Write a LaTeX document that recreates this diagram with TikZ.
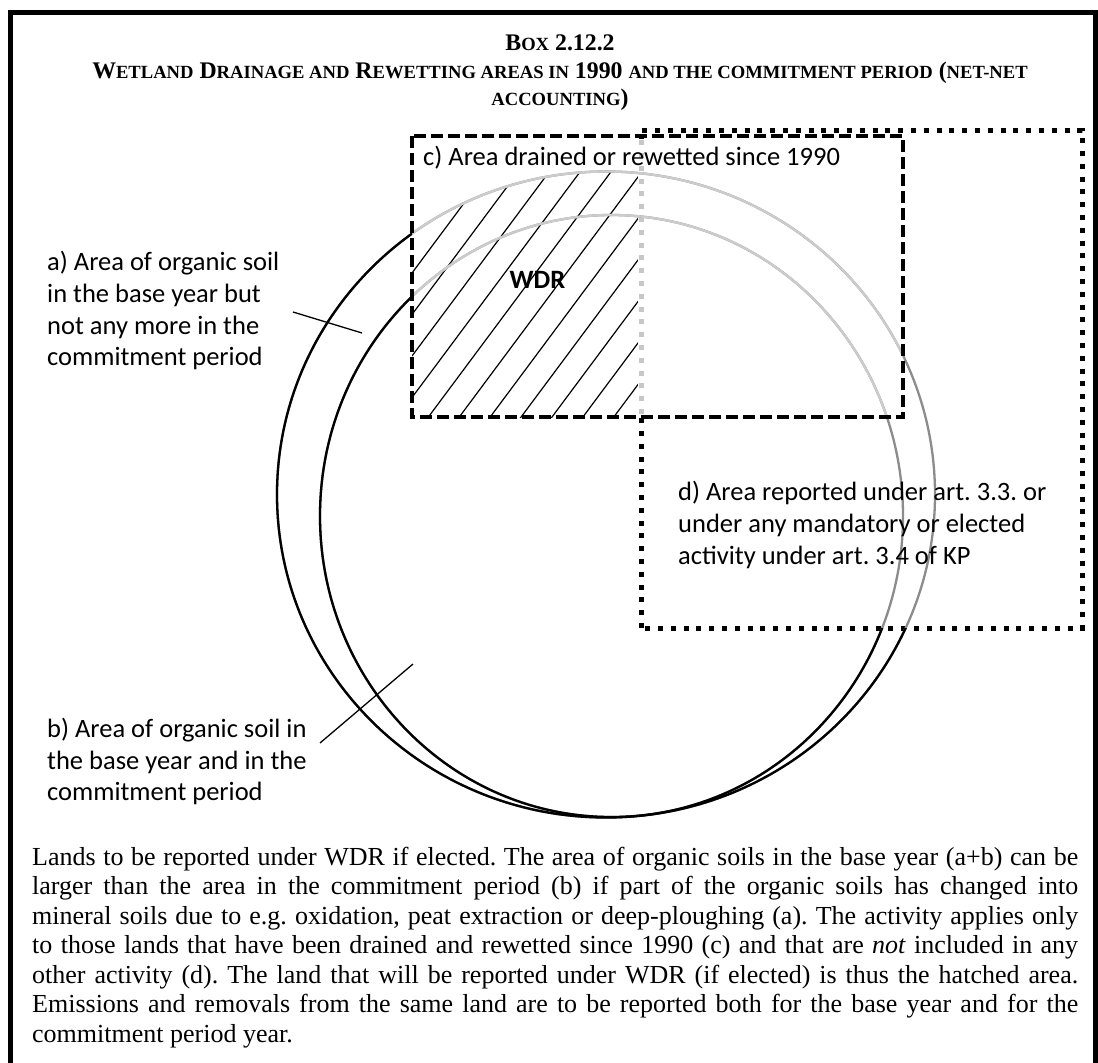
\documentclass[tikz,border=0pt]{standalone}
\usepackage{fontspec}
\setmainfont{Liberation Serif}
\newfontfamily\calfont{Carlito}
\newcommand\smc[1]{{\fontsize{18.6}{18.6}\selectfont #1}}
\begin{document}
\frenchspacing
\begin{tikzpicture}[x=1pt,y=-1pt,
  lbl/.style={font=\calfont\fontsize{26.5}{31.7}\selectfont, inner sep=0pt, anchor=base west},
  captxt/.style={font=\fontsize{26}{29.5}\selectfont, inner sep=0pt, anchor=base west},
  ttl/.style={font=\bfseries\fontsize{23.8}{28}\selectfont, inner sep=0pt, anchor=base},
  leaderline/.style={line width=1.3pt},
  ringline/.style={line width=2.3pt},
  hatchline/.style={line width=1.2pt},
  crect/.style={line width=3.5pt, dash pattern=on 12pt off 5pt},
  drect/.style={line width=5pt, dash pattern=on 5pt off 7.8pt}]
\useasboundingbox (0,0) rectangle (1098,1063);
\fill[white] (0,0) rectangle (1098,1063);

% frame
\draw[line width=5pt, line join=miter] (10.5,1075) -- (10.5,12.5) -- (1095.5,12.5) -- (1095.5,1075);

% title
\node[ttl] (t1) at (560,50) {B\smc{OX} 2.12.2};
\node[ttl] (t2) at (560,78) {W\smc{ETLAND} D\smc{RAINAGE AND} R\smc{EWETTING AREAS IN} 1990 \smc{AND THE COMMITMENT PERIOD} (\smc{NET-NET}};
\node[ttl] (t3) at (560,105) {\smc{ACCOUNTING})};

% hatching (WDR area)
\begin{scope}
  \clip (412,136) rectangle (641,417);
  \clip (606,494.5) ellipse [x radius=329, y radius=323];
  \foreach \k in {-2,...,12} {
    \draw[hatchline] (412,{273+41.5*\k}) -- (641,{273+41.5*\k-307.5});
  }
\end{scope}

% d) rectangle (dotted)
\draw[drect] (641,628) -- (641,130) -- (1082,130) -- (1082,628) -- cycle;
\draw[white, line width=7pt] (641,139) -- (641,414);
\draw[drect, black!22] (641,414) -- (641,139);

% ellipses: grey everywhere, lighter inside c, black outside c and d
\draw[ringline, black!45] (606,494.5) ellipse [x radius=329, y radius=323];
\draw[ringline, black!45] (611.5,516) ellipse [x radius=291.5, y radius=301];
\begin{scope}
  \clip (412,136) rectangle (903,417);
  \draw[ringline, black!20] (606,494.5) ellipse [x radius=329, y radius=323];
  \draw[ringline, black!20] (611.5,516) ellipse [x radius=291.5, y radius=301];
\end{scope}
\begin{scope}
  \clip (-10,-10) -- (1110,-10) -- (1110,1080) -- (-10,1080) -- cycle
        (412,136) -- (412,417) -- (641,417) -- (641,628) -- (1082,628) -- (1082,130) -- (641,130) -- (641,136) -- cycle;
  \draw[ringline] (606,494.5) ellipse [x radius=329, y radius=323];
  \draw[ringline] (611.5,516) ellipse [x radius=291.5, y radius=301];
\end{scope}

% c) rectangle (dashed)
\draw[crect] (412,136) rectangle (903,417);

% labels
\node[lbl] (cl) at (423,165) {c) Area drained or rewetted since 1990};
\node[lbl, font=\calfont\bfseries\fontsize{26.5}{31.7}\selectfont, anchor=base] (wdr) at (537.5,288) {WDR};

\node[lbl] (a1) at (47,270) {a) Area of organic soil};
\node[lbl] (a2) at (47,302) {in the base year but};
\node[lbl] (a3) at (47,334) {not any more in the};
\node[lbl] (a4) at (47,365.5) {commitment period};

\node[lbl] (b1) at (47,737) {b) Area of organic soil in};
\node[lbl] (b2) at (47,769) {the base year and in the};
\node[lbl] (b3) at (47,800.5) {commitment period};

\node[lbl] (d1) at (678,500) {d) Area reported under art. 3.3. or};
\node[lbl] (d2) at (678,532) {under any mandatory or elected};
\node[lbl] (d3) at (678,564) {activity under art. 3.4 of KP};

% leaders
\coordinate (aS) at (293,312);
\coordinate (aE) at (362,333);
\coordinate (bS) at (320,743);
\coordinate (bE) at (413,664);
\draw[leaderline] (aS) -- (aE);
\draw[leaderline] (bS) -- (bE);

% caption
\node[captxt] (p1) at (32,865) {\makebox[1046pt][s]{Lands to be reported under WDR if elected. The area of organic soils in the base year (a+b) can be}};
\node[captxt] (p2) at (32,894.5) {\makebox[1046pt][s]{larger than the area in the commitment period (b) if part of the organic soils has changed into}};
\node[captxt] (p3) at (32,924) {\makebox[1046pt][s]{mineral soils due to e.g. oxidation, peat extraction or deep-ploughing (a). The activity applies only}};
\node[captxt] (p4) at (32,953.5) {\makebox[1046pt][s]{to those lands that have been drained and rewetted since 1990 (c) and that are \textit{not} included in any}};
\node[captxt] (p5) at (32,983) {\makebox[1046pt][s]{other activity (d). The land that will be reported under WDR (if elected) is thus the hatched area.}};
\node[captxt] (p6) at (32,1012.5) {\makebox[1046pt][s]{Emissions and removals from the same land are to be reported both for the base year and for the}};
\node[captxt] (p7) at (32,1042) {commitment period year.};
\end{tikzpicture}
\end{document}
